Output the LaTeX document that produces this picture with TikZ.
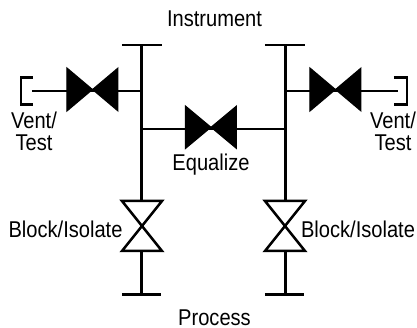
\documentclass[tikz,border=0pt]{standalone}
\usepackage{fontspec}
\setmainfont[FakeStretch=0.88]{Liberation Sans}
\tikzset{
  pipe/.style = {black, line width = 0.05cm},
  solidvalve/.style = {black, fill = black, line width = 0.02cm, line join = miter},
  openvalve/.style = {draw = black, fill = white, line width = 0.05cm, line join = miter},
  lbl/.style = {inner sep = 0pt, align = center, font = \fontsize{13pt}{12.4pt}\selectfont}
}
\begin{document}
\begin{tikzpicture} [x = 0.02cm, y = -0.02cm]
\useasboundingbox (0, 0) rectangle (417, 328);
\coordinate (topL) at (141.5, 45);
\coordinate (topR) at (285.5, 45);
\coordinate (botL) at (141.5, 294.5);
\coordinate (botR) at (285.5, 294.5);
\coordinate (ventL) at (141.5, 91);
\coordinate (ventR) at (285.5, 91);
\coordinate (eqL) at (141.5, 129);
\coordinate (eqR) at (285.5, 129);
\coordinate (endL) at (32, 91);
\coordinate (endR) at (398, 91);
\draw[pipe] (topL) -- (botL);
\draw[pipe] (topR) -- (botR);
\draw[pipe] (122, 45) -- (162, 45);
\draw[pipe] (265, 45) -- (305, 45);
\draw[pipe] (122, 294.5) -- (161, 294.5);
\draw[pipe] (265, 294.5) -- (304, 294.5);
\draw[pipe] (endL) -- (ventL);
\draw[pipe] (ventR) -- (endR);
\draw[pipe] (eqL) -- (eqR);
\draw[pipe] (33, 77.5) -- (21, 77.5) -- (21, 104.5) -- (33, 104.5);
\draw[pipe] (394, 77.5) -- (407, 77.5) -- (407, 104.5) -- (394, 104.5);
\draw[solidvalve] (67, 68) -- (118, 111) -- (118, 68) -- (67, 111) -- cycle;
\draw[solidvalve] (310, 68) -- (361, 111) -- (361, 68) -- (310, 111) -- cycle;
\draw[solidvalve] (185.5, 106) -- (236.5, 148.5) -- (236.5, 106) -- (185.5, 148.5) -- cycle;
\draw[openvalve] (122, 201) -- (162, 251) -- (122, 251) -- (162, 201) -- cycle;
\draw[openvalve] (265, 201) -- (305, 251) -- (265, 251) -- (305, 201) -- cycle;
\node[lbl] (instrument) at (214.5, 19) {Instrument};
\node[lbl] (process) at (214.5, 318) {Process};
\node[lbl] (equalize) at (211, 165) {Equalize};
\node[lbl] (ventleft) at (34, 131) {Vent/\\Test};
\node[lbl] (ventright) at (393, 131) {Vent/\\Test};
\node[lbl] (blockleft) at (65.5, 229) {Block/Isolate};
\node[lbl] (blockright) at (358, 229) {Block/Isolate};
\end{tikzpicture}
\end{document}
